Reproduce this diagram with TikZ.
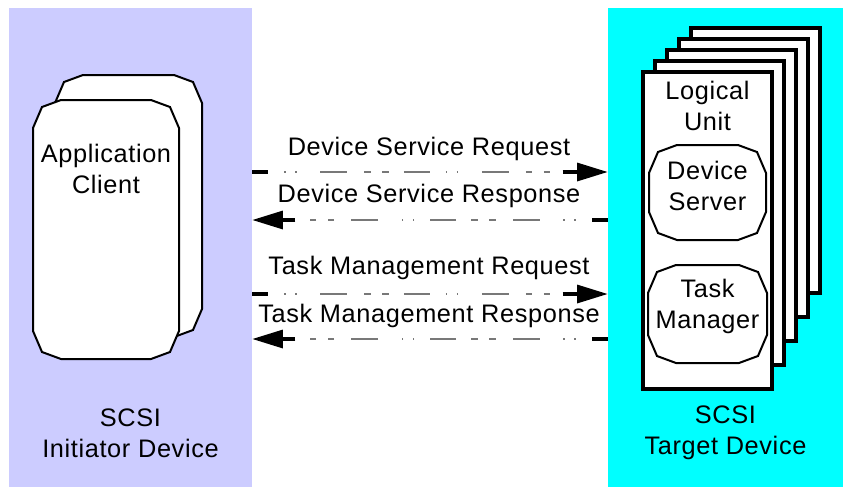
\documentclass[tikz,border=0pt]{standalone}
\usepackage{fontspec}
\setmainfont[LetterSpace=2.5]{Liberation Sans}
\usetikzlibrary{arrows.meta,calc}

\definecolor{initbg}{RGB}{204,204,255}
\definecolor{targbg}{RGB}{0,255,255}
\definecolor{sigmid}{RGB}{120,120,120}

% chamfered (octagon-like) outline: L, T, R, B in pixel units
\newcommand\octshape[5][]{%
  \draw[#1] ({#2+28},#3) -- ({#4-28},#3) -- ({#4-9},{#3+7}) -- (#4,{#3+28})
    -- (#4,{#5-28}) -- ({#4-9},{#5-7}) -- ({#4-28},#5) -- ({#2+28},#5)
    -- ({#2+9},{#5-7}) -- (#2,{#5-28}) -- (#2,{#3+28}) -- ({#2+9},{#3+7}) -- cycle;}

% request: arrow head at the right end (#2)
\newcommand\reqsignal[2]{%
  \draw[sigend] (#1) -- ($(#1)+(16,0)$);
  \draw[sigmidline] ($(#1)+(16,0)$) -- ($(#2)+(-45,0)$);
  \draw[sigend,sighead] ($(#2)+(-45,0)$) -- (#2);}
% response: arrow head at the left end (#2)
\newcommand\respsignal[2]{%
  \draw[sigend] (#1) -- ($(#1)+(-16,0)$);
  \draw[sigmidline] ($(#1)+(-16,0)$) -- ($(#2)+(43,0)$);
  \draw[sigend,sighead] ($(#2)+(43,0)$) -- (#2);}

\tikzset{
  lbl/.style={font=\fontsize{19}{23.25}\selectfont, align=center, inner sep=0pt},
  panel/.style={draw=none, inner sep=0pt, minimum width=#1},
  sigend/.style={line width=2.4pt, black},
  sighead/.style={-{Triangle[length=23pt,width=13.5pt]}},
  sigmidline/.style={line width=0.9pt, sigmid,
    dash pattern=on 1.125pt off 7.125pt on 1.125pt off 17.625pt on 20.25pt off 12.75pt
      on 4.875pt off 8.625pt on 4.875pt off 11.25pt on 19.5pt off 12pt,
    dash phase=109.125pt},
  pagebox/.style={draw=black, fill=white, line width=2.4pt},
  octline/.style={draw=black, fill=white, line width=1.5pt},
}

\begin{document}
\begin{tikzpicture}[x=0.75pt, y=-0.75pt]
  \useasboundingbox (0,0) rectangle (843,487);

  % device panels
  \node[panel=182.25pt, minimum height=359.25pt, fill=initbg] (init) at (130.5,247.5) {};
  \node[panel=176.25pt, minimum height=359.25pt, fill=targbg] (targ) at (725.5,247.5) {};

  % application client (two stacked outlines)
  \octshape[octline]{55}{75}{202}{337}
  \octshape[octline]{33}{100}{179}{359}
  \node[lbl] (appclient) at (106,169) {Application\\Client};

  % stack of logical units, back to front
  \foreach \i in {4,3,2,1,0} {
    \draw[pagebox] ({643+12*\i},{72-11*\i}) rectangle ({772+12*\i},{389-24*\i});
  }
  \node[lbl] (lu) at (707.5,106) {Logical\\Unit};
  \octshape[octline]{649}{145}{766}{240}
  \node[lbl] (devserver) at (707.5,186) {Device\\Server};
  \octshape[octline]{648}{265}{767}{363}
  \node[lbl] (taskmgr) at (707.5,306) {Task\\Manager};

  % panel captions
  \node[lbl] (initcap) at (130.5,433) {SCSI\\Initiator Device};
  \node[lbl] (targcap) at (725.5,433) {SCSI\\Target Device};

  % signal end points on the panel edges
  \coordinate (dsreqA) at (init.east |- 0,172);
  \coordinate (dsreqB) at (targ.west |- 0,172);
  \coordinate (dsrspA) at (targ.west |- 0,220);
  \coordinate (dsrspB) at (init.east |- 0,220);
  \coordinate (tmreqA) at (init.east |- 0,294);
  \coordinate (tmreqB) at (targ.west |- 0,294);
  \coordinate (tmrspA) at (targ.west |- 0,339);
  \coordinate (tmrspB) at (init.east |- 0,339);

  \reqsignal{dsreqA}{dsreqB}
  \respsignal{dsrspA}{dsrspB}
  \reqsignal{tmreqA}{tmreqB}
  \respsignal{tmrspA}{tmrspB}

  % signal labels
  \node[lbl] (dsreqlbl) at (429,149) {Device Service Request};
  \node[lbl] (dsrsplbl) at (429,196) {Device Service Response};
  \node[lbl] (tmreqlbl) at (429,268) {Task Management Request};
  \node[lbl] (tmrsplbl) at (429,316) {Task Management Response};
\end{tikzpicture}
\end{document}
